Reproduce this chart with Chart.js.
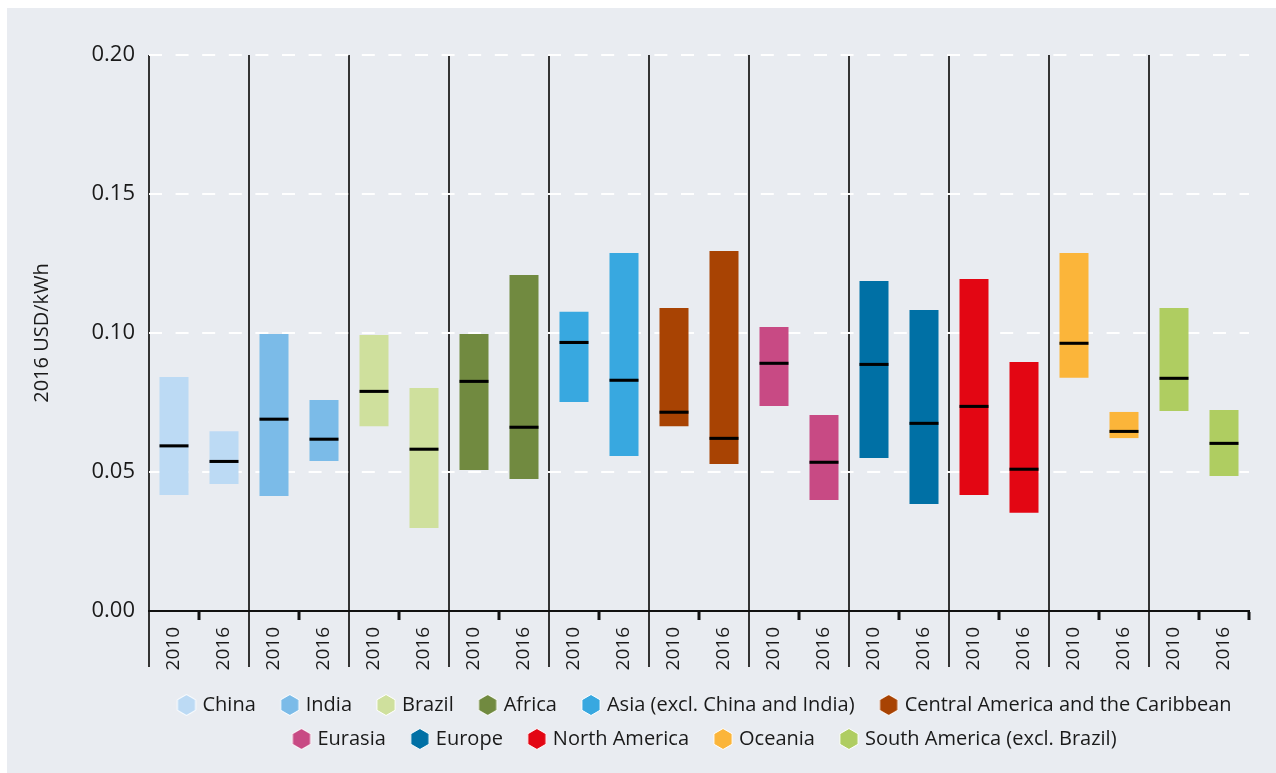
<!DOCTYPE html>
<html>
<head>
<meta charset="utf-8">
<script src="https://cdn.jsdelivr.net/npm/chart.js@4.4.1/dist/chart.umd.min.js"></script>
<style>
  html, body { margin: 0; padding: 0; background: #ffffff; }
  #wrap { position: absolute; left: 7px; top: 8px; width: 1269px; height: 765px; background: #e9ecf1; }
  canvas { display: block; }
</style>
</head>
<body>
<div id="wrap"><canvas id="c" width="1269" height="765"></canvas></div>
<script>
// ---- data ----
const regions = ['China', 'India', 'Brazil', 'Africa', 'Asia (excl. China and India)',
  'Central America and the Caribbean', 'Eurasia', 'Europe', 'North America', 'Oceania',
  'South America (excl. Brazil)'];
const years = ['2010', '2016'];
const regionColors = ['#bcdaf4', '#7bbbe8', '#cfe09d', '#718a40', '#38a8e0', '#a84303',
  '#c84a84', '#0070a5', '#e30613', '#fbb53a', '#afcd61'];
const yTicks = [0, 0.05, 0.10, 0.15, 0.20];
// one value per region-year (2010, 2016 for each region, in order)
const low    = [0.0417, 0.0457, 0.0414, 0.0540, 0.0665, 0.0299, 0.0507, 0.0475, 0.0752, 0.0558, 0.0665,
                0.0529, 0.0737, 0.0399, 0.0550, 0.0385, 0.0417, 0.0353, 0.0839, 0.0622, 0.0719, 0.0486];
const high   = [0.0842, 0.0647, 0.0996, 0.0759, 0.0993, 0.0802, 0.0996, 0.1209, 0.1076, 0.1288, 0.1090,
                0.1295, 0.1022, 0.0705, 0.1187, 0.1083, 0.1194, 0.0896, 0.1288, 0.0716, 0.1090, 0.0723];
const median = [0.0594, 0.0538, 0.0690, 0.0618, 0.0790, 0.0582, 0.0826, 0.0661, 0.0966, 0.0830, 0.0715,
                0.0621, 0.0891, 0.0535, 0.0887, 0.0675, 0.0736, 0.0510, 0.0963, 0.0646, 0.0837, 0.0603];

const categories = regions.flatMap(() => years);
const barColors = categories.map((_, i) => regionColors[Math.floor(i / 2)]);
const MED_HALF = 0.00055;

const FONT = 'Open Sans';
const TEXT = '#1a1a1a';
Chart.defaults.font.family = FONT;

function hexagon(color) {
  const c = document.createElement('canvas');
  c.width = 40; c.height = 24;
  const g = c.getContext('2d');
  const cx = 20 + 7, cy = 12, r = 10.5;
  g.beginPath();
  for (let k = 0; k < 6; k++) {
    const a = Math.PI / 3 * k - Math.PI / 2;
    g.lineTo(cx + r * Math.cos(a), cy + r * Math.sin(a));
  }
  g.closePath();
  g.fillStyle = color; g.fill();
  g.strokeStyle = '#ffffff'; g.lineWidth = 1; g.stroke();
  return c;
}
const hexes = regionColors.map(hexagon);

new Chart(document.getElementById('c'), {
  type: 'bar',
  data: {
    labels: categories,
    datasets: [
      {
        label: 'Median',
        data: median.map(m => [m - MED_HALF, m + MED_HALF]),
        backgroundColor: '#000000',
        grouped: false,
        barPercentage: 0.58,
        categoryPercentage: 1
      },
      {
        label: 'Range',
        data: low.map((l, i) => [l, high[i]]),
        backgroundColor: barColors,
        grouped: false,
        barPercentage: 0.58,
        categoryPercentage: 1
      }
    ]
  },
  options: {
    responsive: false,
    animation: false,
    devicePixelRatio: 1,
    layout: { padding: { left: 0, right: 27, top: 47, bottom: 14 } },
    plugins: {
      tooltip: { enabled: false },
      legend: {
        position: 'bottom',
        fullSize: false,
        onClick: () => {},
        labels: {
          usePointStyle: true,
          pointStyleWidth: 26,
          padding: 14,
          color: TEXT,
          font: { family: FONT, size: 20 },
          generateLabels: () => regions.map((r, i) => ({
            text: r,
            fillStyle: regionColors[i],
            strokeStyle: regionColors[i],
            lineWidth: 0,
            pointStyle: hexes[i],
            hidden: false,
            fontColor: TEXT,
            datasetIndex: 1
          }))
        }
      }
    },
    scales: {
      x: {
        offset: true,
        grid: {
          offset: true,
          drawOnChartArea: true,
          color: c => (c.index % 2 === 0 ? '#333333' : 'rgba(0,0,0,0)'),
          lineWidth: 2,
          tickLength: 56,
          tickColor: c => (c.index % 2 === 0 ? '#333333' : '#111111'),
          tickWidth: c => (c.index % 2 === 0 ? 2 : 3),
          tickBorderDash: c => (c.index % 2 === 0 ? [] : [8, 200])
        },
        border: { display: true, color: '#111111', width: 2 },
        ticks: {
          autoSkip: false,
          maxRotation: 90,
          minRotation: 90,
          padding: -40,
          color: TEXT,
          font: { family: FONT, size: 19 }
        },
        afterFit: s => { s.height = 70; }
      },
      y: {
        min: 0,
        max: 0.2,
        afterBuildTicks: s => { s.ticks = yTicks.map(v => ({ value: v })); },
        ticks: {
          callback: v => Number(v).toFixed(2),
          color: TEXT,
          padding: 14,
          font: { family: FONT, size: 22 }
        },
        grid: {
          drawTicks: false,
          color: c => (c.tick && c.tick.value === 0 ? 'rgba(0,0,0,0)' : '#ffffff'),
          lineWidth: 2
        },
        border: { display: false, dash: [13, 13.6] },
        title: {
          display: true,
          text: '2016 USD/kWh',
          color: TEXT,
          font: { family: FONT, size: 20 },
          padding: { top: 23, bottom: 0 }
        },
        afterFit: s => { s.width = 142; }
      }
    }
  }
});
</script>
</body>
</html>
